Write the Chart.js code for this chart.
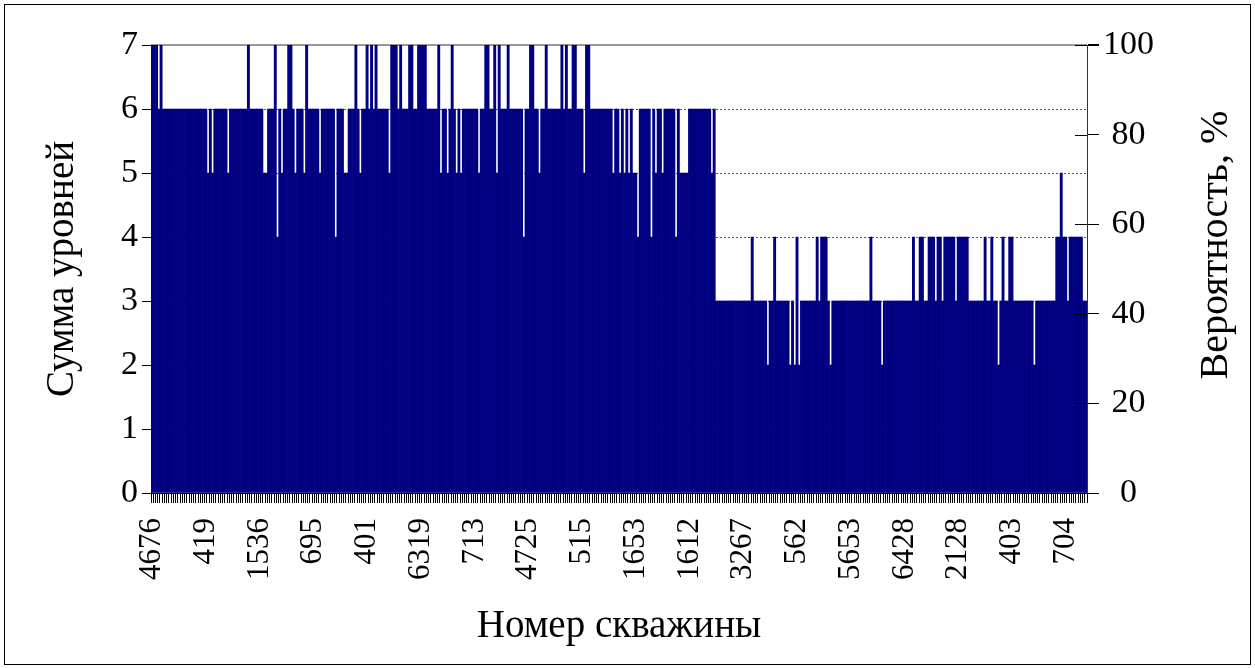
<!DOCTYPE html>
<html>
<head>
<meta charset="utf-8">
<title>Сумма уровней</title>
<script src="https://cdn.jsdelivr.net/npm/chart.js@4.4.0/dist/chart.umd.min.js"></script>
<style>
    html, body { margin: 0; padding: 0; background: #fff; }
    #wrap { position: relative; width: 1255px; height: 668px; }
    #frame { position: absolute; left: 4px; top: 4px; width: 1245px; height: 659px; border: 1px solid #000; pointer-events: none; }
</style>
</head>
<body>
<div id="wrap">
    <canvas id="myChart" width="1255" height="668"></canvas>
    <div id="frame"></div>
</div>
<script>
// подписи оси X (подписана каждая 24-я скважина)
const tickLabels = ['4676', '419', '1536', '695', '401', '6319', '713', '4725', '515',
    '1653', '1612', '3267', '562', '5653', '6428', '2128', '403', '704'];
const labelStep = 24;

// сумма уровней, первая группа скважин
const levelsHigh = [
    7,7,7,6,7,6,6,6,6,6,6,6,6,6,6,6,
    6,6,6,6,6,6,6,6,6,5,6,5,6,6,6,6,
    6,6,5,6,6,6,6,6,6,6,6,7,6,6,6,
    6,6,6,5,5,6,6,6,7,4,6,5,6,6,7,7,
    6,5,6,6,6,5,7,6,6,6,6,6,5,6,6,6,
    6,6,6,4,6,6,6,5,5,6,6,6,7,6,5,6,
    6,7,6,7,6,7,6,6,6,6,6,5,7,7,7,
    6,7,6,6,6,7,7,6,6,7,7,7,7,6,6,6,
    6,6,7,5,6,6,5,6,7,6,5,6,5,6,6,6,
    6,6,6,6,5,6,6,7,7,6,6,7,5,7,6,6,
    6,7,6,6,6,6,6,6,4,6,6,7,7,6,6,
    5,6,6,7,6,6,6,6,6,6,7,6,7,6,6,7,
    7,6,6,6,5,7,7,6,6,6,6,6,6,6,6,6,
    6,5,6,6,5,6,5,6,5,6,5,5,4,6,6,
    6,6,6,4,6,5,6,6,5,6,6,6,6,6,4,6,
    5,5,5,5,6,6,6,6,6,6,6,6,6,6,5,6
];

// сумма уровней, вторая группа скважин
const levelsLow = [
    3,3,3,3,3,3,3,3,3,3,3,3,3,3,3,3,
    4,3,3,3,3,3,3,2,3,3,4,3,3,3,3,
    3,3,2,3,2,4,2,3,3,3,3,3,3,3,4,3,
    4,4,4,3,2,3,3,3,3,3,3,3,3,3,3,3,
    3,3,3,3,3,3,4,3,3,3,3,2,3,3,3,3,
    3,3,3,3,3,3,3,3,3,4,3,3,4,4,3,
    3,4,4,4,3,4,4,3,4,4,4,4,4,3,4,4,
    4,4,4,3,3,3,3,3,3,3,4,3,3,4,3,3,
    2,3,4,3,3,4,4,3,3,3,3,3,3,3,3,
    3,2,3,3,3,3,3,3,3,3,3,4,4,5,4,4,
    3,4,4,4,4,4,4,3,3
];

const levels = levelsHigh.concat(levelsLow);
const wells = levels.map((v, i) => (i % labelStep === 0) ? tickLabels[i / labelStep] : '');

const serif = 'Liberation Serif';
const yTickFont = { family: serif, size: 34 };
const xTickFont = { family: serif, size: 31 };
const titleFont = { family: serif, size: 39 };

// правая подпись читается снизу вверх, как и левая
const rightTitle = {
    id: 'rightTitle',
    afterDraw(chart) {
        const ctx = chart.ctx;
        ctx.save();
        ctx.translate(1216, 245);
        ctx.rotate(-Math.PI / 2);
        ctx.font = `${titleFont.size + 1}px "${serif}"`;
        ctx.fillStyle = '#000';
        ctx.textAlign = 'center';
        ctx.textBaseline = 'middle';
        ctx.fillText('Вероятность, %', 0, 0);
        ctx.restore();
    }
};

// внутренняя половина засечек правой оси
const rightInnerTicks = {
    id: 'rightInnerTicks',
    afterDraw(chart) {
        const s = chart.scales.y1;
        const ctx = chart.ctx;
        ctx.save();
        ctx.strokeStyle = '#000';
        ctx.lineWidth = 1;
        s.ticks.forEach(t => {
            const y = Math.round(s.getPixelForValue(t.value)) + 0.5;
            ctx.beginPath();
            ctx.moveTo(s.left - 12, y);
            ctx.lineTo(s.left, y);
            ctx.stroke();
        });
        ctx.restore();
    }
};

new Chart(document.getElementById('myChart').getContext('2d'), {
    type: 'bar',
    plugins: [rightTitle, rightInnerTicks],
    data: {
        labels: wells,
        datasets: [{
            label: 'Сумма уровней',
            data: levels,
            yAxisID: 'y',
            backgroundColor: '#000080',
            borderWidth: 0,
            barPercentage: 1,
            categoryPercentage: 1
        }]
    },
    options: {
        responsive: false,
        animation: false,
        events: [],
        layout: {
            padding: { top: 45, left: 0, right: 0, bottom: 0 }
        },
        plugins: {
            legend: { display: false },
            tooltip: { enabled: false }
        },
        scales: {
            x: {
                afterFit: (s) => { s.height = 175; },
                ticks: {
                    autoSkip: false,
                    minRotation: 90,
                    maxRotation: 90,
                    padding: 15,
                    color: '#000',
                    font: xTickFont
                },
                grid: {
                    display: true,
                    drawOnChartArea: false,
                    drawTicks: true,
                    tickLength: 10,
                    tickColor: '#000'
                },
                border: { display: true, color: '#000', width: 1 },
                title: {
                    display: true,
                    text: 'Номер скважины',
                    color: '#000',
                    font: titleFont,
                    padding: { top: 0, bottom: 18 }
                }
            },
            y: {
                position: 'left',
                min: 0,
                max: 7,
                afterFit: (s) => { s.width = 151; },
                ticks: {
                    stepSize: 1,
                    padding: 4,
                    color: '#000',
                    font: yTickFont
                },
                grid: {
                    color: (c) => (c.tick && c.tick.value > 0 && c.tick.value < 7) ? '#555' : 'rgba(0,0,0,0)',
                    tickColor: '#000',
                    tickLength: 9,
                    tickBorderDash: []
                },
                border: { display: true, color: '#000', width: 1, dash: [2, 2] },
                title: {
                    display: true,
                    text: 'Сумма уровней',
                    color: '#000',
                    font: titleFont,
                    padding: { top: 39, bottom: 0 }
                }
            },
            y1: {
                position: 'right',
                display: true,
                min: 0,
                max: 100,
                afterFit: (s) => { s.width = 168; },
                ticks: {
                    stepSize: 20,
                    padding: 4,
                    crossAlign: 'center',
                    color: '#000',
                    font: yTickFont
                },
                grid: {
                    color: (c) => (c.tick && c.tick.value === 100) ? '#999' : 'rgba(0,0,0,0)',
                    lineWidth: (c) => (c.tick && c.tick.value === 100) ? 2 : 1,
                    tickColor: '#000',
                    tickLength: 12
                },
                border: { display: true, color: '#333', width: 1 }
            }
        }
    }
});
</script>
</body>
</html>
